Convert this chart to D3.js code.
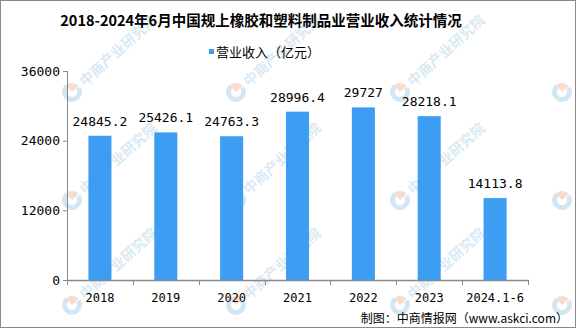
<!DOCTYPE html>
<html><head><meta charset="utf-8">
<script src="https://cdn.jsdelivr.net/npm/d3@7"></script>
<style>
html,body{margin:0;padding:0;background:#fff;}
svg{display:block;}
</style></head>
<body>
<svg id="chart" width="576" height="328"></svg>
<script>
const title = "2018-2024年6月中国规上橡胶和塑料制品业营业收入统计情况";
const seriesName = "营业收入（亿元）";
const categories = ["2018","2019","2020","2021","2022","2023","2024.1-6"];
const revenue = [24845.2, 25426.1, 24763.3, 28996.4, 29727, 28218.1, 14113.8];
const revenueLabels = ["24845.2","25426.1","24763.3","28996.4","29727","28218.1","14113.8"];
const yTicks = [0, 12000, 24000, 36000];
const source = "制图：中商情报网（www.askci.com）";
const watermarkText = "中商产业研究院";

const W = 576, H = 328;
const svg = d3.select("#chart");
const mono = "'DejaVu Sans Mono', monospace";
const cjk = "'Noto Sans CJK SC', sans-serif";

svg.append("rect").attr("x",0.5).attr("y",0.5).attr("width",W-1).attr("height",H-1)
  .attr("fill","#fff").attr("stroke","#8a8a8a");

// watermarks (rightmost column: logo only, its text lies beyond the edge)
const wmX = [72, 236, 400, 562], wmY = [92, 200, 305];
const wm = svg.append("g").attr("class","watermarks");
wmY.forEach(yy => wmX.forEach((xx, ci) => {
  const g = wm.append("g").attr("transform",`translate(${xx},${yy}) rotate(-42)`);
  const arc = d3.arc().innerRadius(5).outerRadius(10);
  g.append("path").attr("d", arc({startAngle: Math.PI*0.55, endAngle: Math.PI*2.0})).attr("fill","#d3e6f3");
  g.append("path").attr("d", d3.arc().innerRadius(0).outerRadius(9)({startAngle: 0, endAngle: Math.PI*0.5})).attr("fill","#fadccf");
  if (ci < wmX.length - 1) {
    g.append("text").attr("x",13).attr("y",5).attr("font-family",cjk).attr("font-weight","bold")
      .attr("font-size",14).attr("fill","#d9eaf5").text(watermarkText);
  }
}));

const x = d3.scaleBand().domain(categories).range([67, 528]).padding(0);
const y = d3.scaleLinear().domain([0, 36000]).range([280, 71]);
const barW = x.bandwidth()*0.35;

// title
svg.append("text").attr("x",261).attr("y",26).attr("text-anchor","middle")
  .attr("font-family",cjk).attr("font-weight","bold").attr("font-size",14.5).attr("fill","#000").text(title);

// legend
svg.append("rect").attr("x",209).attr("y",49).attr("width",5).attr("height",5).attr("fill","#3d9df2");
svg.append("text").attr("x",216).attr("y",57).attr("font-family",cjk).attr("font-size",13).attr("fill","#000").text(seriesName);

// y axis
const yAxis = svg.append("g").attr("transform","translate(67,0)")
  .call(d3.axisLeft(y).tickValues(yTicks).tickSize(4).tickPadding(3).tickFormat(d3.format("d")));
yAxis.select(".domain").attr("stroke","#888");
yAxis.selectAll(".tick line").attr("stroke","#888");
yAxis.selectAll("text").attr("font-family",mono).attr("font-size",13).attr("fill","#000");

// x axis
const xAxis = svg.append("g").attr("transform","translate(0,280)")
  .call(d3.axisBottom(x).tickSize(0).tickPadding(13));
xAxis.select(".domain").attr("stroke","#888").attr("stroke-width",1.5);
xAxis.selectAll("text").attr("font-family",mono).attr("font-size",12).attr("fill","#000");
const bounds = categories.map(c => x(c)).concat([x(categories[categories.length-1]) + x.bandwidth()]);
xAxis.selectAll(".bnd").data(bounds).enter().append("line").attr("class","bnd")
  .attr("x1",d=>Math.round(d)+0.5).attr("x2",d=>Math.round(d)+0.5).attr("y1",0).attr("y2",5).attr("stroke","#888");

// bars
svg.append("g").selectAll("rect").data(categories).enter().append("rect")
  .attr("x", (c)=> x(c) + x.bandwidth()/2 - barW/2)
  .attr("y", (c,i)=> y(revenue[i]))
  .attr("width", barW)
  .attr("height", (c,i)=> y(0) - y(revenue[i]))
  .attr("fill","#3d9df2");

// labels
svg.append("g").selectAll("text").data(categories).enter().append("text")
  .attr("x", c => x(c) + x.bandwidth()/2)
  .attr("y", (c,i)=> y(revenue[i]) - 10)
  .attr("text-anchor","middle").attr("font-family",mono).attr("font-size",13).attr("fill","#000")
  .text((c,i)=> revenueLabels[i]);

// source
svg.append("text").attr("x",568).attr("y",323).attr("text-anchor","end")
  .attr("font-family",cjk).attr("font-size",12).attr("fill","#000").text(source);
</script>
</body></html>
